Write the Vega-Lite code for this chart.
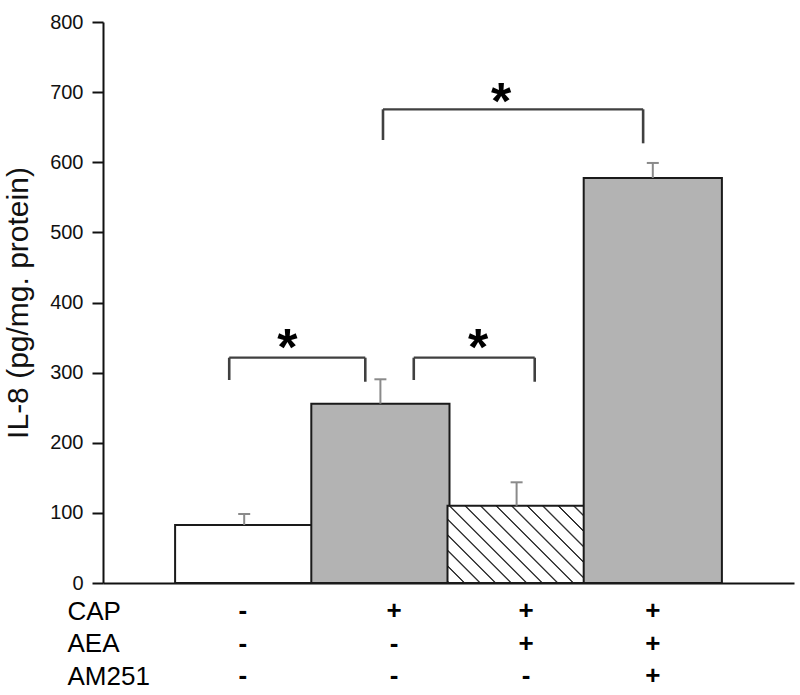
{
  "$schema": "https://vega.github.io/schema/vega-lite/v6.json",
  "width": 691,
  "height": 561,
  "autosize": "none",
  "padding": {"left": 103, "top": 22, "right": 6, "bottom": 112},
  "background": "white",
  "config": {
    "view": {"stroke": null},
    "font": "Liberation Sans",
    "axisQuantitative": {"labelFont": "Liberation Sans", "labelFontSize": 20, "labelColor": "#111111", "titleFont": "Liberation Sans", "titleFontSize": 30, "titleFontWeight": "normal", "titleColor": "#111111"}
  },
  "datasets": {
    "bars": [
      {"group": "Control", "pos": 1, "il8": 82.7, "upper": 98.4},
      {"group": "CAP", "pos": 2, "il8": 255.7, "upper": 290.5},
      {"group": "CAP+AEA", "pos": 3, "il8": 110.2, "upper": 143.6},
      {"group": "CAP+AEA+AM251", "pos": 4, "il8": 577.5, "upper": 599}
    ],
    "brackets": [
      {"left": 0.89, "right": 1.889, "bar_y": 321.3, "left_end": 289.5, "right_end": 287, "star_x": 1.317, "star_y": 351.5},
      {"left": 2.245, "right": 3.133, "bar_y": 321.3, "left_end": 289.5, "right_end": 287, "star_x": 2.717, "star_y": 351.5},
      {"left": 2.019, "right": 3.929, "bar_y": 675.5, "left_end": 631.7, "right_end": 627, "star_x": 2.887, "star_y": 700.9}
    ],
    "signs": [
      {"group": "Control", "col": 0.99, "agent": "CAP", "sign": "-"},
      {"group": "Control", "col": 0.99, "agent": "AEA", "sign": "-"},
      {"group": "Control", "col": 0.99, "agent": "AM251", "sign": "-"},
      {"group": "CAP", "col": 2.1, "agent": "CAP", "sign": "+"},
      {"group": "CAP", "col": 2.1, "agent": "AEA", "sign": "-"},
      {"group": "CAP", "col": 2.1, "agent": "AM251", "sign": "-"},
      {"group": "CAP+AEA", "col": 3.07, "agent": "CAP", "sign": "+"},
      {"group": "CAP+AEA", "col": 3.07, "agent": "AEA", "sign": "+"},
      {"group": "CAP+AEA", "col": 3.07, "agent": "AM251", "sign": "-"},
      {"group": "CAP+AEA+AM251", "col": 4.0, "agent": "CAP", "sign": "+"},
      {"group": "CAP+AEA+AM251", "col": 4.0, "agent": "AEA", "sign": "+"},
      {"group": "CAP+AEA+AM251", "col": 4.0, "agent": "AM251", "sign": "+"}
    ]
  },
  "layer": [
    {
      "layer": [
        {
          "data": {"name": "bars"},
          "mark": {"type": "bar", "width": 138.2, "stroke": "#1a1a1a", "strokeWidth": 2, "opacity": 1},
          "encoding": {
            "x": {
              "field": "pos", "type": "quantitative",
              "scale": {"domain": [0, 5], "nice": false, "zero": false},
              "axis": {"title": null, "labels": false, "ticks": false, "grid": false, "domain": true, "domainColor": "#111111", "domainWidth": 2}
            },
            "y": {
              "field": "il8", "type": "quantitative",
              "scale": {"domain": [0, 800], "nice": false},
              "axis": {
                "title": "IL-8 (pg/mg. protein)",
                "titleFont": "Liberation Sans", "titleFontSize": 30, "titleFontWeight": "normal", "titleColor": "#111111", "titlePadding": 16,
                "values": [0, 100, 200, 300, 400, 500, 600, 700, 800],
                "grid": false, "domainColor": "#111111", "domainWidth": 2,
                "tickColor": "#111111", "tickWidth": 2, "tickSize": 11,
                "labelFont": "Liberation Sans", "labelFontSize": 20, "labelColor": "#111111", "labelPadding": 9
              }
            },
            "fill": {
              "condition": [
                {"test": "datum.group === 'Control'", "value": "#ffffff"},
                {"test": "datum.group === 'CAP+AEA'", "value": {
                  "gradient": "linear", "x1": 0, "y1": 1, "x2": 1.188, "y2": 0.336,
                  "stops": [
                    {"offset": 0, "color": "#ffffff"},
                    {"offset": 0.0009, "color": "#ffffff"}, {"offset": 0.0049, "color": "#333333"}, {"offset": 0.0099, "color": "#333333"}, {"offset": 0.0139, "color": "#ffffff"},
                    {"offset": 0.0730, "color": "#ffffff"}, {"offset": 0.0770, "color": "#333333"}, {"offset": 0.0820, "color": "#333333"}, {"offset": 0.0860, "color": "#ffffff"},
                    {"offset": 0.1451, "color": "#ffffff"}, {"offset": 0.1491, "color": "#333333"}, {"offset": 0.1541, "color": "#333333"}, {"offset": 0.1581, "color": "#ffffff"},
                    {"offset": 0.2171, "color": "#ffffff"}, {"offset": 0.2211, "color": "#333333"}, {"offset": 0.2261, "color": "#333333"}, {"offset": 0.2301, "color": "#ffffff"},
                    {"offset": 0.2892, "color": "#ffffff"}, {"offset": 0.2932, "color": "#333333"}, {"offset": 0.2982, "color": "#333333"}, {"offset": 0.3022, "color": "#ffffff"},
                    {"offset": 0.3612, "color": "#ffffff"}, {"offset": 0.3652, "color": "#333333"}, {"offset": 0.3702, "color": "#333333"}, {"offset": 0.3742, "color": "#ffffff"},
                    {"offset": 0.4333, "color": "#ffffff"}, {"offset": 0.4373, "color": "#333333"}, {"offset": 0.4423, "color": "#333333"}, {"offset": 0.4463, "color": "#ffffff"},
                    {"offset": 0.5054, "color": "#ffffff"}, {"offset": 0.5094, "color": "#333333"}, {"offset": 0.5144, "color": "#333333"}, {"offset": 0.5184, "color": "#ffffff"},
                    {"offset": 0.5774, "color": "#ffffff"}, {"offset": 0.5814, "color": "#333333"}, {"offset": 0.5864, "color": "#333333"}, {"offset": 0.5904, "color": "#ffffff"},
                    {"offset": 0.6495, "color": "#ffffff"}, {"offset": 0.6535, "color": "#333333"}, {"offset": 0.6585, "color": "#333333"}, {"offset": 0.6625, "color": "#ffffff"},
                    {"offset": 0.7215, "color": "#ffffff"}, {"offset": 0.7255, "color": "#333333"}, {"offset": 0.7305, "color": "#333333"}, {"offset": 0.7345, "color": "#ffffff"},
                    {"offset": 0.7936, "color": "#ffffff"}, {"offset": 0.7976, "color": "#333333"}, {"offset": 0.8026, "color": "#333333"}, {"offset": 0.8066, "color": "#ffffff"},
                    {"offset": 0.8657, "color": "#ffffff"}, {"offset": 0.8697, "color": "#333333"}, {"offset": 0.8747, "color": "#333333"}, {"offset": 0.8787, "color": "#ffffff"},
                    {"offset": 0.9377, "color": "#ffffff"}, {"offset": 0.9417, "color": "#333333"}, {"offset": 0.9467, "color": "#333333"}, {"offset": 0.9507, "color": "#ffffff"},
                    {"offset": 1, "color": "#ffffff"}
                  ]
                }}
              ],
              "value": "#b3b3b3"
            }
          }
        },
        {
          "data": {"name": "bars"},
          "mark": {"type": "rule", "color": "#8a8a8a", "strokeWidth": 2},
          "encoding": {
            "x": {"field": "pos", "type": "quantitative"},
            "y": {"field": "il8", "type": "quantitative"},
            "y2": {"field": "upper"}
          }
        },
        {
          "data": {"name": "bars"},
          "mark": {"type": "tick", "orient": "horizontal", "color": "#8a8a8a", "size": 12, "thickness": 2, "opacity": 1},
          "encoding": {
            "x": {"field": "pos", "type": "quantitative"},
            "y": {"field": "upper", "type": "quantitative"}
          }
        },
        {
          "data": {"name": "brackets"},
          "mark": {"type": "rule", "color": "#404040", "strokeWidth": 2.2},
          "encoding": {
            "x": {"field": "left", "type": "quantitative"},
            "x2": {"field": "right"},
            "y": {"field": "bar_y", "type": "quantitative"}
          }
        },
        {
          "data": {"name": "brackets"},
          "mark": {"type": "rule", "color": "#404040", "strokeWidth": 2.6},
          "encoding": {
            "x": {"field": "left", "type": "quantitative"},
            "y": {"field": "bar_y", "type": "quantitative"},
            "y2": {"field": "left_end"}
          }
        },
        {
          "data": {"name": "brackets"},
          "mark": {"type": "rule", "color": "#404040", "strokeWidth": 2.6},
          "encoding": {
            "x": {"field": "right", "type": "quantitative"},
            "y": {"field": "bar_y", "type": "quantitative"},
            "y2": {"field": "right_end"}
          }
        },
        {
          "data": {"name": "brackets"},
          "mark": {"type": "text", "text": "*", "font": "Liberation Sans", "fontWeight": "bold", "fontSize": 52, "color": "#000000", "align": "center", "baseline": "middle", "dy": 12},
          "encoding": {
            "x": {"field": "star_x", "type": "quantitative"},
            "y": {"field": "star_y", "type": "quantitative"}
          }
        }
      ]
    },
    {
      "data": {"name": "signs"},
      "mark": {"type": "text", "font": "Liberation Sans", "fontWeight": "bold", "fontSize": 26, "color": "#000000", "align": "center", "baseline": "middle"},
      "encoding": {
        "x": {"field": "col", "type": "quantitative"},
        "y": {
          "field": "agent", "type": "nominal",
          "scale": {"type": "point", "domain": ["CAP", "AEA", "AM251"], "range": [589, 654], "padding": 0},
          "axis": {"orient": "left", "title": null, "domain": false, "ticks": false, "tickSize": 0, "grid": false, "labelAlign": "left", "labelBaseline": "middle", "labelPadding": 36, "labelFont": "Liberation Sans", "labelFontSize": 26, "labelColor": "#000000"}
        },
        "text": {"field": "sign", "type": "nominal"}
      }
    }
  ],
  "resolve": {"scale": {"y": "independent"}, "axis": {"y": "independent"}}
}
